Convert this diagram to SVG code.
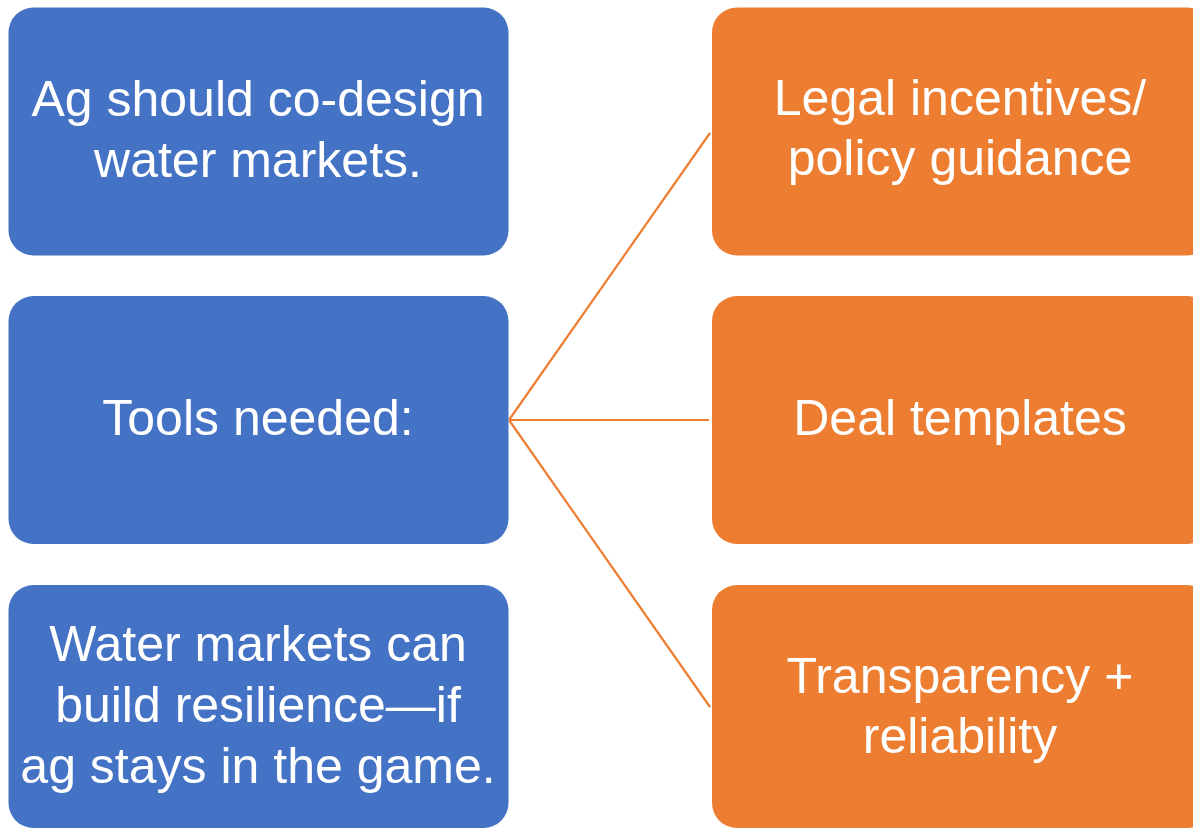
<svg xmlns="http://www.w3.org/2000/svg" width="1193" height="828" viewBox="0 0 1193 828">
<style>
.blue{fill:#4472C4}
.orange{fill:#ED7D31}
.t{font-family:"Liberation Sans",Arial,sans-serif;font-size:50px;fill:#FFFFFF;text-anchor:middle}
.c{stroke:#ED7D31;stroke-width:2.2;fill:none}
</style>
<rect width="1193" height="828" fill="#FFFFFF"/>
<g id="connectors">
<line class="c" x1="509" y1="420" x2="710" y2="133"/>
<line class="c" x1="509" y1="420" x2="709" y2="420"/>
<line class="c" x1="509" y1="420" x2="710" y2="707"/>
</g>
<g id="node-ag-codesign">
<rect class="blue" x="8.5" y="7.5" width="500" height="248" rx="25"/>
<text class="t" x="258" y="116">Ag should co-design</text>
<text class="t" x="258" y="177">water markets.</text>
</g>
<g id="node-tools">
<rect class="blue" x="8.5" y="296" width="500" height="248" rx="25"/>
<text class="t" x="258" y="435">Tools needed:</text>
</g>
<g id="node-resilience">
<rect class="blue" x="8.5" y="585" width="500" height="243" rx="25"/>
<text class="t" x="258" y="661">Water markets can</text>
<text class="t" x="258" y="722">build resilience—if</text>
<text class="t" x="258" y="783">ag stays in the game.</text>
</g>
<g id="node-legal">
<rect class="orange" x="712" y="7.5" width="500" height="248" rx="25"/>
<text class="t" x="960" y="115">Legal incentives/</text>
<text class="t" x="960" y="175">policy guidance</text>
</g>
<g id="node-deal">
<rect class="orange" x="712" y="296" width="500" height="248" rx="25"/>
<text class="t" x="960" y="435">Deal templates</text>
</g>
<g id="node-transparency">
<rect class="orange" x="712" y="585" width="500" height="243" rx="25"/>
<text class="t" x="960" y="693">Transparency +</text>
<text class="t" x="960" y="753">reliability</text>
</g>
</svg>
